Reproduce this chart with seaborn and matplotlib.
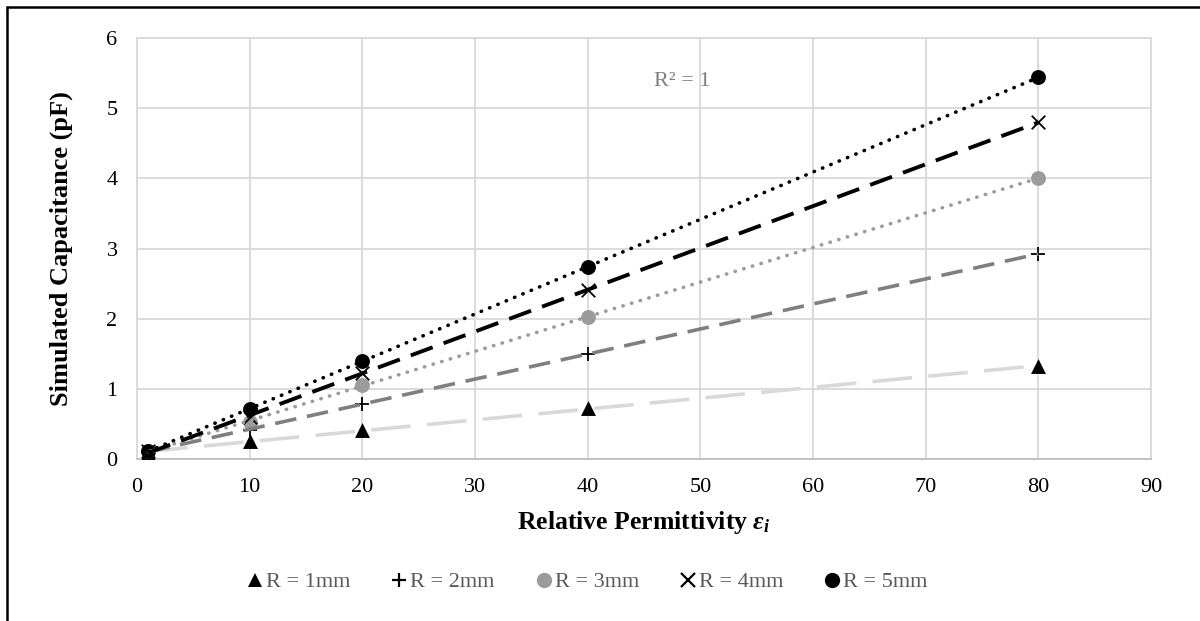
import numpy as np
import pandas as pd
import matplotlib
matplotlib.use("Agg")
import matplotlib.pyplot as plt
import seaborn as sns
from matplotlib.lines import Line2D

# ---- data ----
permittivity = [1, 10, 20, 40, 80]
cap_r1 = [0.09, 0.25, 0.41, 0.73, 1.32]
cap_r2 = [0.10, 0.42, 0.79, 1.50, 2.92]
cap_r3 = [0.11, 0.53, 1.05, 2.03, 4.00]
cap_r4 = [0.11, 0.60, 1.22, 2.41, 4.80]
cap_r5 = [0.12, 0.71, 1.39, 2.74, 5.44]
series_labels = ["R = 1mm", "R = 2mm", "R = 3mm", "R = 4mm", "R = 5mm"]
x_ticks = [0, 10, 20, 30, 40, 50, 60, 70, 80, 90]
y_ticks = [0, 1, 2, 3, 4, 5, 6]

sns.set_theme(style="whitegrid")
plt.rcParams["font.family"] = ["Liberation Serif", "DejaVu Serif"]
plt.rcParams["mathtext.fontset"] = "custom"
plt.rcParams["mathtext.rm"] = "Liberation Serif"
plt.rcParams["mathtext.it"] = "Liberation Serif:italic"
plt.rcParams["mathtext.bf"] = "Liberation Serif:bold"
plt.rcParams["mathtext.bfit"] = "Liberation Serif:bold:italic"

fig = plt.figure(figsize=(12, 6.21), dpi=100)
ax = fig.add_axes([137 / 1200, 1 - 459 / 621, (1151 - 137) / 1200, (459 - 38) / 621])

df = pd.DataFrame({
    "eps": permittivity * 5,
    "cap": cap_r1 + cap_r2 + cap_r3 + cap_r4 + cap_r5,
    "series": sum([[s] * len(permittivity) for s in series_labels], []),
})

# trendline styles
line_styles = {
    "R = 1mm": dict(color="#d9d9d9", lw=2.6, dashes=(11, 4.5)),
    "R = 2mm": dict(color="#7f7f7f", lw=2.6, dashes=(6, 3)),
    "R = 3mm": dict(color="#9b9b9b", lw=2.6, dashes=(0.1, 2.4), dash_capstyle="round"),
    "R = 4mm": dict(color="#000000", lw=2.8, dashes=(6, 3)),
    "R = 5mm": dict(color="#000000", lw=2.6, dashes=(0.1, 2.4), dash_capstyle="round"),
}
marker_styles = {
    "R = 1mm": dict(marker="^", color="black", s=115, linewidths=0),
    "R = 2mm": dict(marker="+", color="black", s=95, linewidths=1.3),
    "R = 3mm": dict(marker="o", color="#9b9b9b", s=115, linewidths=0),
    "R = 4mm": dict(marker="x", color="black", s=95, linewidths=1.3),
    "R = 5mm": dict(marker="o", color="black", s=115, linewidths=0),
}

for s in series_labels:
    sub = df[df["series"] == s]
    sns.scatterplot(data=sub, x="eps", y="cap", ax=ax, zorder=3, legend=False,
                    **marker_styles[s])

for s in series_labels:
    sub = df[df["series"] == s]
    st = line_styles[s]
    kws = dict(color=st["color"], lw=st["lw"], dashes=st["dashes"], zorder=4)
    if "dash_capstyle" in st:
        kws["dash_capstyle"] = st["dash_capstyle"]
    sns.regplot(data=sub, x="eps", y="cap", ax=ax, scatter=False, ci=None,
                truncate=True, line_kws=kws)

ax.set_xlim(0, 90)
ax.set_ylim(0, 6)
ax.set_xticks(x_ticks)
ax.set_yticks(y_ticks)
ax.tick_params(axis="both", labelsize=16, colors="black", length=0)
ax.tick_params(axis="x", pad=14)
ax.tick_params(axis="y", pad=14)
for lab in ax.get_xticklabels() + ax.get_yticklabels():
    lab.set_color("black")
ax.grid(True, color="#d9d9d9", lw=1.3)
for side in ["top", "right", "left", "bottom"]:
    ax.spines[side].set_visible(True)
    ax.spines[side].set_color("#d9d9d9")
    ax.spines[side].set_linewidth(1.3)
ax.spines["bottom"].set_color("#bfbfbf")
ax.set_axisbelow(True)

ax.set_xlabel(r"Relative Permittivity $\mathbfit{\varepsilon_i}$", fontsize=18.5,
              fontweight="bold", color="black", labelpad=8)
ax.set_ylabel("Simulated Capacitance (pF)", fontsize=19, fontweight="bold",
              color="black", labelpad=24)

ax.text(48.4, 5.38, "R² = 1", fontsize=16, color="#7f7f7f", ha="center", va="center")

handles = []
for s in series_labels:
    m = marker_styles[s]
    handles.append(Line2D([0], [0], linestyle="none", marker=m["marker"],
                          color=m["color"], markersize=10 if m["marker"] != "o" else 11,
                          markeredgewidth=1.6 if m["marker"] in "+x" else 0))
leg = fig.legend(handles, series_labels, loc="center", bbox_to_anchor=(588 / 1200, 1 - 582 / 621),
                 ncol=5, frameon=False, fontsize=16, handlelength=0.6, handletextpad=0.2,
                 columnspacing=1.9)
for t in leg.get_texts():
    t.set_color("#595959")

# outer frame (left and top visible)
fig.add_artist(Line2D([6.5 / 1200, 6.5 / 1200], [-0.1, 1 - 6.5 / 621], color="black", lw=1.8,
                      transform=fig.transFigure))
fig.add_artist(Line2D([6.5 / 1200, 1.1], [1 - 6.5 / 621, 1 - 6.5 / 621], color="black", lw=1.8,
                      transform=fig.transFigure))

fig.savefig("out.png", dpi=100)
